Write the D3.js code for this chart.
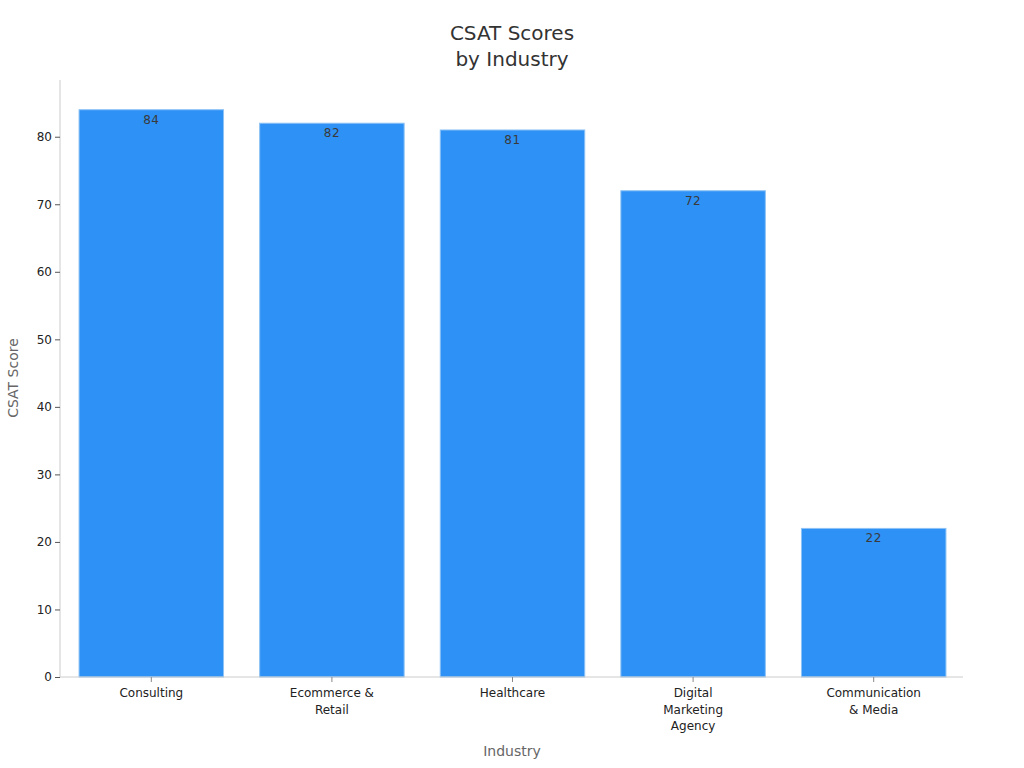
<!DOCTYPE html>
<html><head><meta charset="utf-8">
<script src="https://cdn.jsdelivr.net/npm/d3@7"></script>
<style>body{margin:0;background:#fff;} text{font-family:"DejaVu Sans",sans-serif;}</style>
</head><body>
<svg id="c" width="1024" height="768"></svg>
<script>
const categories = ["Consulting", "Ecommerce & Retail", "Healthcare", "Digital Marketing Agency", "Communication & Media"];
const categoryLines = [["Consulting"], ["Ecommerce &", "Retail"], ["Healthcare"], ["Digital", "Marketing", "Agency"], ["Communication", "& Media"]];
const scores = [84, 82, 81, 72, 22];
const yTicks = [0, 10, 20, 30, 40, 50, 60, 70, 80];

const svg = d3.select("#c");
const pLeft = 60, pRight = 963, pTop = 80, pBottom = 677;
const x = d3.scaleBand().domain(categories).range([pLeft + 1, pRight + 1]).paddingInner(0.2).paddingOuter(0.1);
const y = d3.scaleLinear().domain([0, 88.4]).range([pBottom, pTop]);

// bars
svg.append("g").selectAll("rect").data(scores).join("rect")
  .attr("x", (d, i) => x(categories[i]))
  .attr("y", d => y(d))
  .attr("width", x.bandwidth())
  .attr("height", d => y(0) - y(d))
  .attr("fill", "#2e91f6")
  .attr("stroke", "#8cc2f5")
  .attr("stroke-width", 1);

// value labels
svg.append("g").selectAll("text").data(scores).join("text")
  .attr("x", (d, i) => x(categories[i]) + x.bandwidth() / 2)
  .attr("y", d => y(d) + 14)
  .attr("text-anchor", "middle")
  .attr("font-size", 12)
  .attr("fill", "#3a3a3a")
  .attr("letter-spacing", "0.5px")
  .text(d => d);

// y axis
const ya = svg.append("g").attr("transform", `translate(${pLeft},0)`)
  .call(d3.axisLeft(y).tickValues(yTicks).tickSize(5).tickPadding(3));
ya.select(".domain").attr("stroke", "#ccc").attr("d", `M0,${pTop}V${pBottom}`);
ya.selectAll(".tick line").attr("stroke", "#555");
ya.selectAll(".tick text").attr("font-size", 12).attr("fill", "#222").attr("font-family", "DejaVu Sans");

// x axis
const xa = svg.append("g").attr("transform", `translate(0,${pBottom})`)
  .call(d3.axisBottom(x).tickSize(5).tickFormat(""));
xa.select(".domain").attr("stroke", "#ccc").attr("d", `M${pLeft},0H${pRight}`);
xa.selectAll(".tick line").attr("stroke", "#888");
svg.append("g").selectAll("text").data(categories).join("text")
  .attr("x", d => x(d) + x.bandwidth() / 2)
  .attr("y", pBottom + 20)
  .attr("text-anchor", "middle")
  .attr("font-size", 12)
  .attr("fill", "#222")
  .each(function (d, i) {
    d3.select(this).selectAll("tspan").data(categoryLines[i]).join("tspan")
      .attr("x", x(d) + x.bandwidth() / 2)
      .attr("dy", (t, j) => j === 0 ? 0 : 16.5)
      .text(t => t);
  });

// titles
svg.append("text").attr("x", 512).attr("y", 40).attr("text-anchor", "middle")
  .attr("font-size", 20).attr("fill", "#333").text("CSAT Scores");
svg.append("text").attr("x", 512).attr("y", 66).attr("text-anchor", "middle")
  .attr("font-size", 20).attr("fill", "#333").text("by Industry");
svg.append("text").attr("x", 512).attr("y", 756).attr("text-anchor", "middle")
  .attr("font-size", 14).attr("fill", "#666").text("Industry");
svg.append("text").attr("transform", "translate(18,378) rotate(-90)").attr("text-anchor", "middle")
  .attr("font-size", 14).attr("fill", "#666").text("CSAT Score");
</script>
</body></html>
